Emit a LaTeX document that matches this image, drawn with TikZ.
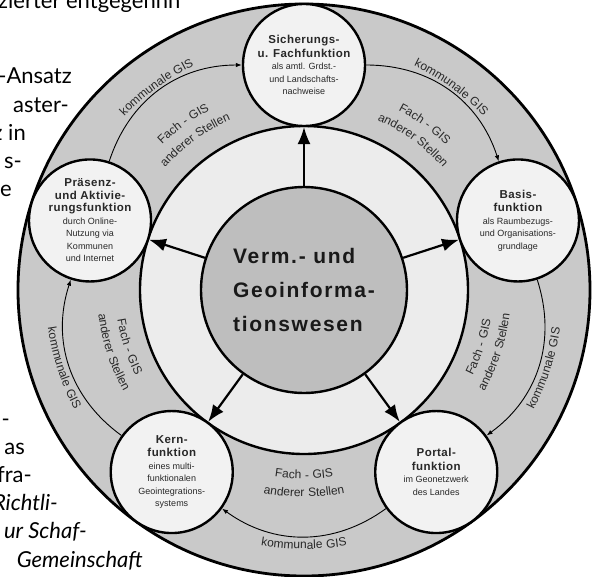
\documentclass[tikz,border=0pt]{standalone}
\usepackage{fontspec}
\setmainfont{Liberation Sans}
\newfontfamily\corefont{Liberation Sans}[LetterSpace=8]
\newfontfamily\satfont{Liberation Sans}[LetterSpace=4]
\newfontfamily\bandfam{Liberation Sans}[LetterSpace=4]
\newfontfamily\pagefont{Lato}
\usetikzlibrary{arrows.meta}
\usetikzlibrary{decorations.text}

\definecolor{ringgray}{RGB}{201,201,201}
\definecolor{diskgray}{RGB}{236,236,236}
\definecolor{satfill}{RGB}{242,242,242}
\definecolor{coregray}{RGB}{190,190,190}
\definecolor{inktext}{RGB}{40,40,40}

\newcommand{\hd}[1]{{\satfont\fontsize{11.5}{12.5}\selectfont\bfseries #1}}
\newcommand{\bandfont}{\bandfam\fontsize{12}{12}\selectfont}

\tikzset{
  sat/.style={circle, draw, line width=2.4pt, fill=satfill, minimum size=122pt,
    inner sep=0pt, align=center, text=inktext, font=\fontsize{9}{12.5}\selectfont},
  core/.style={circle, draw, line width=2.4pt, fill=coregray, minimum size=206pt,
    inner sep=0pt, align=left, text=black!90, font=\corefont\bfseries\fontsize{21}{34}\selectfont},
  spoke/.style={line width=2.2pt, -{Latex[length=17pt,width=13pt]}},
  flow/.style={line width=0.9pt, -{Latex[length=6pt,width=4.5pt]}},
  band/.style={decoration={text along path, text align=center, text color=inktext,
    text={|\bandfont|#1}}, decorate},
  wraptext/.style={font=\pagefont\fontsize{22}{22}\selectfont, inner sep=0pt, anchor=base east},
  wrapit/.style={wraptext, font=\pagefont\itshape\fontsize{22}{22}\selectfont}
}

\begin{document}
\begin{tikzpicture}[x=1pt,y=1pt]
\useasboundingbox (-304,-286) rectangle (298,290);
\clip (-304,-286) rectangle (298,290);

\fill[ringgray] (0,0) circle (286);
\draw[line width=2.8pt] (0,0) circle (286);
\filldraw[fill=diskgray, line width=2.4pt] (0,0) circle (164);

\coordinate (tipS) at (90:163);
\coordinate (tipB) at (18:163);
\coordinate (tipP) at (-54:163);
\coordinate (tipK) at (-126:163);
\coordinate (tipA) at (162:163);

\node[sat] (sicher) at (90:225) {\hd{Sicherungs-}\\[1pt]\hd{u. Fachfunktion}\\als amtl. Grdst.-\\und Landschafts-\\nachweise};
\node[sat] (basis) at (18:225) {\hd{Basis-}\\[1pt]\hd{funktion}\\als Raumbezugs-\\und Organisations-\\grundlage};
\node[sat] (portal) at (-54:225) {\hd{Portal-}\\[1pt]\hd{funktion}\\im Geonetzwerk\\des Landes};
\node[sat] (kern) at (-126:225) {\hd{Kern-}\\[1pt]\hd{funktion}\\eines multi-\\funktionalen\\Geointegrations-\\systems};
\node[sat] (praes) at (162:225) {\hd{Präsenz-}\\\hd{und Aktivie-}\\\hd{rungsfunktion}\\durch Online-\\Nutzung via\\Kommunen\\und Internet};

\draw[flow] (praes) to[bend left=36] (sicher);
\draw[flow] (sicher) to[bend left=36] (basis);
\draw[flow] (basis) to[bend left=36] (portal);
\draw[flow] (portal) to[bend left=36] (kern);
\draw[flow] (kern) to[bend left=36] (praes);

\node[core] (core) at (0,0) {Verm.- und\\Geoinforma-\\tionswesen};

\draw[spoke] (core) -- (tipS);
\draw[spoke] (core) -- (tipB);
\draw[spoke] (core) -- (tipP);
\draw[spoke] (core) -- (tipK);
\draw[spoke] (core) -- (tipA);

\path[band={kommunale GIS}] (158:250) arc[start angle=158, end angle=94, radius=250];
\path[band={Fach - GIS}] (158:203) arc[start angle=158, end angle=94, radius=203];
\path[band={anderer Stellen}] (158:185) arc[start angle=158, end angle=94, radius=185];

\path[band={kommunale GIS}] (86:250) arc[start angle=86, end angle=22, radius=250];
\path[band={Fach - GIS}] (86:203) arc[start angle=86, end angle=22, radius=203];
\path[band={anderer Stellen}] (86:185) arc[start angle=86, end angle=22, radius=185];

\path[band={kommunale GIS}] (-50:259) arc[start angle=-50, end angle=14, radius=259];
\path[band={Fach - GIS}] (-50:189) arc[start angle=-50, end angle=14, radius=189];
\path[band={anderer Stellen}] (-50:207) arc[start angle=-50, end angle=14, radius=207];

\path[band={kommunale GIS}] (-122:259) arc[start angle=-122, end angle=-58, radius=259];
\path[band={Fach - GIS}] (-122:189) arc[start angle=-122, end angle=-58, radius=189];
\path[band={anderer Stellen}] (-122:207) arc[start angle=-122, end angle=-58, radius=207];

\path[band={kommunale GIS}] (166:259) arc[start angle=166, end angle=230, radius=259];
\path[band={Fach - GIS}] (166:189) arc[start angle=166, end angle=230, radius=189];
\path[band={anderer Stellen}] (166:207) arc[start angle=166, end angle=230, radius=207];

\node[wraptext, anchor=base west] (top0) at (-306,281) {zierter entgegenhn};
\node[wraptext] (top1) at (-232,206) {-Ansatz};
\node[wraptext] (top2) at (-235,178) {aster-};
\node[wraptext] (top3) at (-278,150) {z in};
\node[wraptext] (top4) at (-282,122) {s-};
\node[wraptext] (top5) at (-292,94) {e};

\node[wraptext] (low1) at (-294,-136) {-};
\node[wraptext] (low2) at (-279,-164) {as};
\node[wraptext] (low3) at (-272,-192) {fra-};
\node[wrapit] (low4) at (-246,-220) {Richtli-};
\node[wrapit] (low5) at (-217,-248) {ur Schaf-};
\node[wrapit] (low6) at (-161,-277) {Gemeinschaft};

\end{tikzpicture}
\end{document}
